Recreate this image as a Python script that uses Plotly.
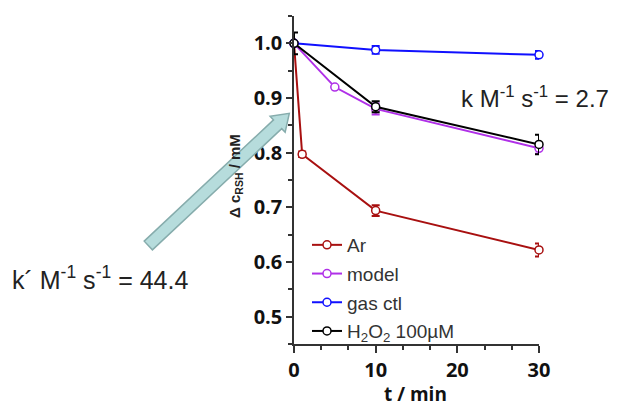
import plotly.graph_objects as go
import numpy as np

W, H = 617, 407
ML, MR, MT, MB = 294, 78, 16, 63

# data
t_ar = [0, 1, 10, 30]
y_ar = [1.0, 0.797, 0.694, 0.622]
e_ar = [0.0, 0.005, 0.010, 0.012]

t_model = [0, 5, 10, 30]
y_model = [1.0, 0.920, 0.880, 0.808]
e_model = [0.0, 0.0, 0.010, 0.010]

t_gas = [0, 10, 30]
y_gas = [1.0, 0.988, 0.979]
e_gas = [0.0, 0.007, 0.007]

t_h2o2 = [0, 10, 30]
y_h2o2 = [1.0, 0.884, 0.815]
e_h2o2 = [0.02, 0.010, 0.018]

series = [
    ("Ar", t_ar, y_ar, e_ar, "#a81010"),
    ("model", t_model, y_model, e_model, "#b030e8"),
    ("gas ctl", t_gas, y_gas, e_gas, "#1010ff"),
    ("H<sub>2</sub>O<sub>2</sub> 100µM", t_h2o2, y_h2o2, e_h2o2, "#000000"),
]

fig = go.Figure()
for i, (name, t, y, e, c) in enumerate(series):
    fig.add_trace(go.Scatter(
        x=t, y=y, name=name, mode="lines+markers",
        line=dict(color=c, width=2),
        marker=dict(symbol="circle", size=8, color="white", line=dict(color=c, width=1.5)),
        error_y=dict(type="data", array=e, color=c, thickness=2, width=4),
        cliponaxis=False, legendgroup=f"g{i}",
    ))

axcol = "#333333"
fig.update_xaxes(range=[0, 30], dtick=10, tick0=0, showline=True, linecolor=axcol, linewidth=1.5,
                 ticks="outside", ticklen=7, tickwidth=1.5, tickcolor=axcol, showgrid=False, zeroline=False,
                 tickfont=dict(family="Open Sans", size=20, color="#111111", weight="bold"),
                 minor=dict(dtick=10/3, tick0=0, ticks="outside", ticklen=4, tickwidth=1.5, tickcolor=axcol))
fig.update_yaxes(range=[0.45, 1.05], dtick=0.1, tick0=0.5, tickformat=".1f", showline=True, linecolor=axcol,
                 linewidth=1.5, ticks="outside", ticklen=6, tickwidth=1.5, tickcolor=axcol, showgrid=False,
                 zeroline=False,
                 tickfont=dict(family="Open Sans", size=20, color="#111111", weight="bold"),
                 minor=dict(dtick=0.05, tick0=0.45, ticks="outside", ticklen=4, tickwidth=1.5, tickcolor=axcol))

PW, PH = W - ML - MR, H - MT - MB
def px(xp): return (xp - ML) / PW
def py(yp): return (H - MB - yp) / PH

# block arrow (decoration)
T = np.array([148.3, 245.5]); P = np.array([289.3, 113.3])
u = (P - T) / np.linalg.norm(P - T); n = np.array([-u[1], u[0]])
w, hl, hw = 6.0, 16.0, 11.0
B = P - u * hl
pts = [T + n*w, B + n*w, B + n*hw, P, B - n*hw, B - n*w, T - n*w]
path = "M " + " L ".join(f"{px(p[0]):.4f},{py(p[1]):.4f}" for p in pts) + " Z"

fig.update_layout(
    width=W, height=H, margin=dict(l=ML, r=MR, t=MT, b=MB),
    plot_bgcolor="white", paper_bgcolor="white",
    legend=dict(x=px(307), y=py(226), xanchor="left", yanchor="top", bgcolor="rgba(0,0,0,0)",
                font=dict(family="Liberation Sans", size=19, color="#333333"),
                tracegroupgap=1, traceorder="grouped", itemwidth=30),
    annotations=[
        dict(text="k M<sup>-1</sup> s<sup>-1</sup> = 2.7", x=px(459), y=py(97), xref="paper", yref="paper",
             xanchor="left", yanchor="middle", showarrow=False,
             font=dict(family="Liberation Sans", size=24, color="#222222")),
        dict(text="k´ M<sup>-1</sup> s<sup>-1</sup> = 44.4", x=px(10), y=py(278), xref="paper", yref="paper",
             xanchor="left", yanchor="middle", showarrow=False,
             font=dict(family="Liberation Sans", size=25, color="#222222")),
        dict(text="Δ c<sub>RSH</sub> / mM", x=px(235), y=py(176), xref="paper", yref="paper",
             xanchor="center", yanchor="middle", textangle=-90, showarrow=False,
             font=dict(family="Liberation Sans", size=15, color="#222222", weight="bold")),
        dict(text="t / min", x=px(415), y=py(394), xref="paper", yref="paper",
             xanchor="center", yanchor="middle", showarrow=False,
             font=dict(family="Open Sans", size=19, color="#111111", weight="bold")),
    ],
    shapes=[dict(type="path", path=path, xref="paper", yref="paper", layer="above",
                 fillcolor="#b6dcdc", line=dict(color="#86acac", width=1.5))],
)

fig.write_html("out.html", config={"displayModeBar": False},
               post_script="document.body.style.margin='0';document.body.style.overflow='hidden';")
